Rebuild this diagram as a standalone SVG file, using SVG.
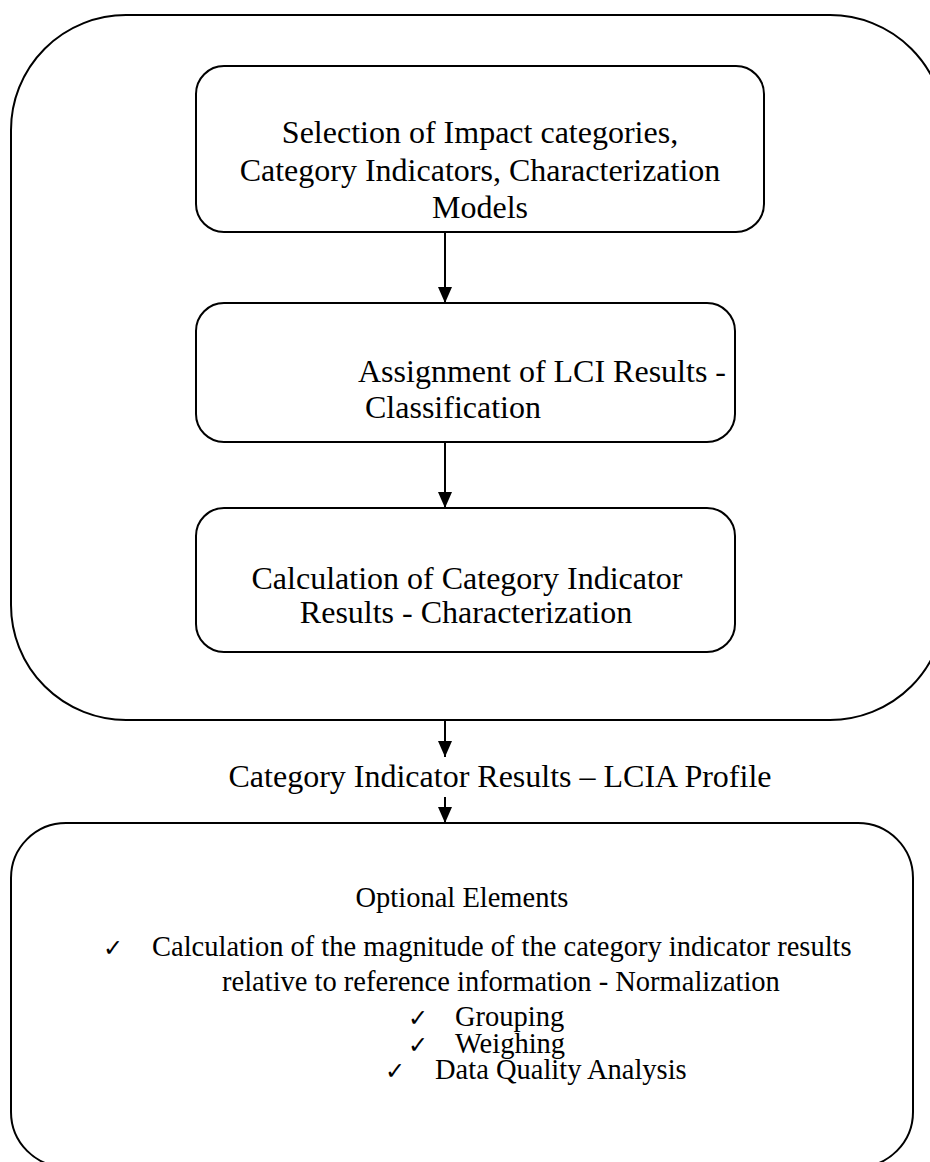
<svg xmlns="http://www.w3.org/2000/svg" width="930" height="1162" viewBox="0 0 930 1162">
<style>
.box{fill:none;stroke:#000;stroke-width:2}
.t{font-family:"Liberation Serif","Times New Roman",serif;font-size:32px;fill:#000}
.s{font-family:"Liberation Serif","Times New Roman",serif;font-size:28.5px;fill:#000}
.ck{font-family:"DejaVu Sans",sans-serif;font-size:24px}
.c{stroke:#000;stroke-width:2;fill:none}
</style>
<defs>
<marker id="ah" viewBox="0 0 16 14" refX="16" refY="7" markerWidth="16" markerHeight="14" markerUnits="userSpaceOnUse" orient="auto">
<path d="M0,0 L16,7 L0,14 Z" fill="#000"/>
</marker>
</defs>
<rect width="930" height="1162" fill="#fff"/>
<g id="lcia">
<rect class="box" x="11" y="15" width="934" height="705" rx="115" ry="115"/>
</g>
<g id="selection">
<rect class="box" x="196" y="66" width="568" height="166" rx="28" ry="28"/>
<text class="t" text-anchor="middle"><tspan x="480" y="143">Selection of Impact categories,</tspan><tspan x="480" y="181">Category Indicators, Characterization</tspan><tspan x="480" y="218">Models</tspan></text>
</g>
<g id="assignment">
<rect class="box" x="196" y="303" width="539" height="139" rx="28" ry="28"/>
<text class="t"><tspan x="358" y="382">Assignment of LCI Results -</tspan><tspan x="365" y="418">Classification</tspan></text>
</g>
<g id="calculation">
<rect class="box" x="196" y="508" width="539" height="144" rx="28" ry="28"/>
<text class="t" text-anchor="middle"><tspan x="467" y="589">Calculation of Category Indicator</tspan><tspan x="466" y="623">Results - Characterization</tspan></text>
</g>
<g id="profile">
<text class="t" text-anchor="middle" x="500" y="787">Category Indicator Results – LCIA Profile</text>
</g>
<g id="optional">
<rect class="box" x="11" y="823" width="902" height="344" rx="55" ry="55"/>
<text class="s" text-anchor="middle" x="462" y="907" font-size="27.5">Optional Elements</text>
<text class="s"><tspan class="ck" x="103" y="956">✓</tspan><tspan x="152" y="956">Calculation of the magnitude of the category indicator results</tspan></text>
<text class="s" x="222" y="991">relative to reference information - Normalization</text>
<text class="s"><tspan class="ck" x="408" y="1026">✓</tspan><tspan x="455" y="1026">Grouping</tspan></text>
<text class="s"><tspan class="ck" x="408" y="1053">✓</tspan><tspan x="455" y="1053">Weighing</tspan></text>
<text class="s"><tspan class="ck" x="385" y="1079">✓</tspan><tspan x="435" y="1079">Data Quality Analysis</tspan></text>
</g>
<g id="connectors">
<line class="c" x1="445" y1="232" x2="445" y2="303" marker-end="url(#ah)"/>
<line class="c" x1="445" y1="442" x2="445" y2="508" marker-end="url(#ah)"/>
<line class="c" x1="445" y1="720" x2="445" y2="757" marker-end="url(#ah)"/>
<line class="c" x1="445" y1="797" x2="445" y2="823" marker-end="url(#ah)"/>
</g>
</svg>
